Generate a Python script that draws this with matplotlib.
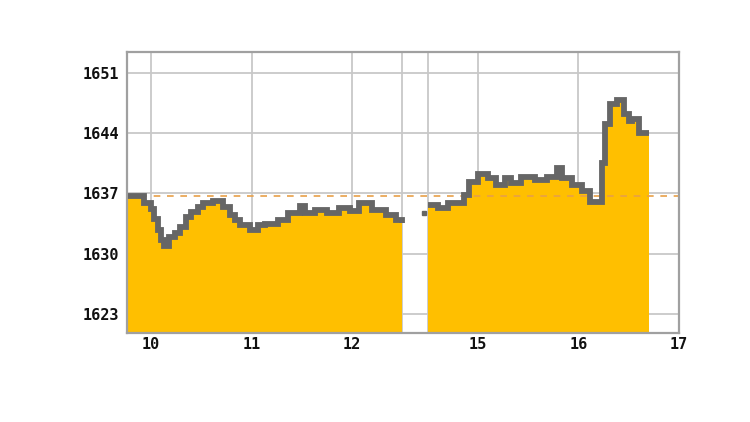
import matplotlib.pyplot as plt
import numpy as np

# morning session (clock time, price)
am_times = ["09:46", "09:55", "09:56", "10:00", "10:02", "10:04", "10:06", "10:08",
            "10:11", "10:14", "10:17", "10:21", "10:24", "10:28", "10:31", "10:37",
            "10:43", "10:47", "10:50", "10:53", "10:59", "11:04", "11:08", "11:16",
            "11:22", "11:29", "11:32", "11:38", "11:45", "11:52", "11:59", "12:04",
            "12:12", "12:20", "12:26", "12:30"]
am_prices = [1636.7, 1636.7, 1635.9, 1635.2, 1634.0, 1632.8, 1631.6, 1630.9,
             1631.9, 1632.4, 1633.1, 1634.3, 1634.8, 1635.4, 1635.9, 1636.1,
             1635.4, 1634.5, 1633.9, 1633.3, 1632.7, 1633.3, 1633.5, 1633.9,
             1634.7, 1635.5, 1634.7, 1635.1, 1634.7, 1635.3, 1634.9, 1635.9,
             1635.1, 1634.5, 1633.9, 1633.6]

# afternoon session
pm_times = ["14:30", "14:36", "14:42", "14:52", "14:55", "15:00", "15:06", "15:11",
            "15:16", "15:20", "15:26", "15:34", "15:41", "15:47", "15:50", "15:56",
            "16:02", "16:07", "16:14", "16:16", "16:19", "16:23", "16:27", "16:30",
            "16:32", "16:36", "16:42"]
pm_prices = [1635.7, 1635.3, 1635.9, 1636.8, 1638.3, 1639.3, 1638.8, 1638.0,
             1638.8, 1638.2, 1638.9, 1638.6, 1638.9, 1640.0, 1638.8, 1638.0,
             1637.3, 1636.0, 1640.5, 1645.1, 1647.4, 1647.8, 1646.2, 1645.4,
             1645.6, 1644.0, 1644.0]

# pre-open print before the afternoon session
auction_time = "14:28"
auction_price = 1634.7

prev_close = 1636.7

yticks = [1623, 1630, 1637, 1644, 1651]
xtick_times = ["10:00", "11:00", "12:00", "12:30", "14:30", "15:00", "16:00", "17:00"]
xtick_labels = ["10", "11", "12", "", "", "15", "16", "17"]


def pos(t):
    # lunch break squeezed down to a small gap
    hh, mm = t.split(":")
    h = int(hh) + int(mm) / 60
    return h if h <= 13 else h - 1.75


fill_col = "#FFBF00"
line_col = "#666666"
frame_col = "#a0a0a0"

fig = plt.figure(figsize=(7.5, 4.22), dpi=100)
ax = fig.add_axes([127/750, 1 - 333/422, (679-127)/750, (333-52)/422])

for times, prices in [(am_times, am_prices), (pm_times, pm_prices)]:
    x = np.array([pos(t) for t in times])
    y = np.array(prices)
    ax.fill_between(x, y, 1600, step="post", color=fill_col, lw=0, zorder=2)
    ax.step(x, y, where="post", color=line_col, lw=4.2, zorder=3,
            solid_capstyle="butt", solid_joinstyle="miter")

ax.plot([pos(auction_time)], [auction_price], marker="s", ms=2.5,
        color=line_col, ls="none", zorder=3)

ax.axhline(prev_close, color="#E8A048", lw=1.2, ls=(0, (4, 4)), zorder=2.5)

ax.set_xlim(9.761, 15.25)
ax.set_ylim(1620.8, 1653.4)
ax.set_yticks(yticks)
ax.set_yticklabels([str(v) for v in yticks])
ax.set_xticks([pos(t) for t in xtick_times])
ax.set_xticklabels(xtick_labels)

ax.grid(True, color="#c8c8c8", lw=1.3, zorder=0)
ax.set_axisbelow(True)
ax.tick_params(length=0, labelsize=11, labelcolor="#111111")
ax.tick_params(axis="y", pad=6)
ax.tick_params(axis="x", pad=3)
for lab in ax.get_xticklabels() + ax.get_yticklabels():
    lab.set_family("DejaVu Sans Mono")
    lab.set_fontweight("bold")

for s in ax.spines.values():
    s.set_color(frame_col)
    s.set_linewidth(1.6)

fig.savefig("out.png", dpi=100)
